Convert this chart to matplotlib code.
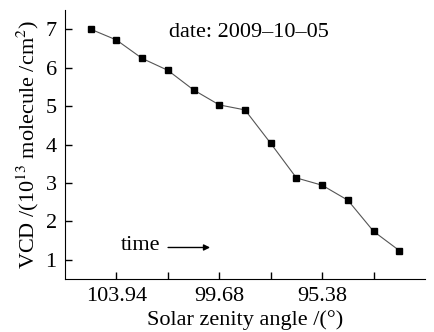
import matplotlib.pyplot as plt
import numpy as np

# data (points evenly spaced in time)
vcd = [7.00, 6.72, 6.24, 5.93, 5.42, 5.03, 4.90, 4.03, 3.13, 2.94, 2.55, 1.74, 1.24]
tick_pos = [1, 3, 5, 7, 9, 11]
tick_labels = ['103.94', '', '99.68', '', '95.38', '']
y_ticks = [1, 2, 3, 4, 5, 6, 7]

plt.rcParams['font.family'] = ['Liberation Serif', 'DejaVu Serif']
plt.rcParams['mathtext.fontset'] = 'stix'

fig = plt.figure(figsize=(4.34, 3.32), dpi=100)
ax = fig.add_axes([65 / 434, 1 - 279 / 332, 360 / 434, 269 / 332])

x = np.arange(len(vcd))
ax.plot(x, vcd, color='#555555', lw=0.8, marker='s', ms=4.5,
        mfc='black', mec='black')

ax.set_xlim(-1, 13)
ax.set_ylim(0.5, 7.5)
ax.set_xticks(tick_pos)
ax.set_xticklabels(tick_labels)
ax.set_yticks(y_ticks)

ax.spines['top'].set_visible(False)
ax.spines['right'].set_visible(False)
ax.tick_params(direction='in', length=5, width=1, labelsize=16, pad=6)

ax.set_xlabel('Solar zenity angle /(°)', fontsize=16, labelpad=3)
ax.set_ylabel('VCD /(10$^{13}$ molecule /cm$^2$)', fontsize=16, labelpad=3)

ax.text(0.51, 0.915, 'date: 2009\u201310\u201305', transform=ax.transAxes,
        ha='center', va='center', fontsize=16)
ax.annotate('', xy=(4.75, 1.32), xytext=(2.9, 1.32),
            arrowprops=dict(arrowstyle='-|>', color='black', lw=1,
                            mutation_scale=9))
ax.text(2.7, 1.37, 'time', ha='right', va='center', fontsize=16)

fig.savefig('out.png', dpi=100)
